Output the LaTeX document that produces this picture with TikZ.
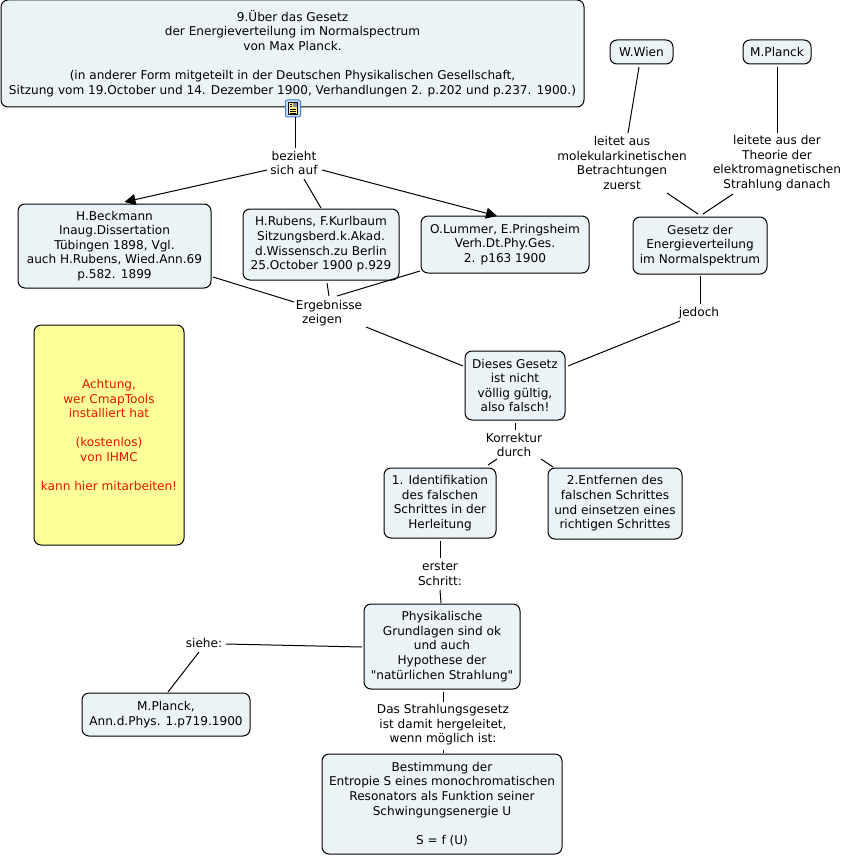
\documentclass[tikz,border=0pt]{standalone}
\usepackage{fontspec}
\setmainfont{DejaVu Sans}[Ligatures=TeXOff]
\usetikzlibrary{arrows.meta}
\definecolor{boxfill}{HTML}{ECF3F6}
\definecolor{noteyellow}{HTML}{FFFF99}
\definecolor{notered}{HTML}{E61400}
\definecolor{iconblue}{HTML}{3F7FD0}
\definecolor{iconface}{HTML}{CFE3F7}
\definecolor{iconpaper}{HTML}{FFEE88}
\definecolor{iconpic}{HTML}{7F8FB8}
\tikzset{
  concept/.style={draw=black,line width=1pt,fill=boxfill,rounded corners=7pt,inner sep=0pt,align=center,
    font=\fontsize{12.1}{14.6}\selectfont},
  note/.style={concept,fill=noteyellow,text=notered},
  linklabel/.style={inner sep=0pt,align=center,font=\fontsize{12.1}{14.6}\selectfont},
  conn/.style={line width=1pt,black},
  arrowconn/.style={conn,-{Triangle[length=11pt,width=11pt]}}
}
\newcommand{\pt}[3]{([shift={(#2,#3)}]#1.center)}
\begin{document}
\begin{tikzpicture}[x=1pt,y=-1pt]
\useasboundingbox (0,0) rectangle (843,856);
\fill[white] (0,0) rectangle (843,856);

\node[concept,minimum width=583pt,minimum height=107pt] (top) at (292.5,53.5) {9.Über das Gesetz\\der Energieverteilung im Normalspectrum\\von Max Planck.\\[14.6pt](in anderer Form mitgeteilt in der Deutschen Physikalischen Gesellschaft,\\Sitzung vom 19.October und 14. Dezember 1900, Verhandlungen 2. p.202 und p.237. 1900.)};
\node[concept,minimum width=63pt,minimum height=24pt] (wien) at (641.5,52) {W.Wien};
\node[concept,minimum width=68pt,minimum height=24pt] (planck) at (777,52) {M.Planck};
\node[concept,minimum width=193pt,minimum height=84pt] (beck) at (114.5,246) {H.Beckmann\\Inaug.Dissertation\\Tübingen 1898, Vgl.\\auch H.Rubens, Wied.Ann.69\\p.582. 1899};
\node[concept,minimum width=156pt,minimum height=71pt] (rub) at (321,244.5) {H.Rubens, F.Kurlbaum\\Sitzungsberd.k.Akad.\\d.Wissensch.zu Berlin\\25.October 1900 p.929};
\node[concept,minimum width=168pt,minimum height=57pt] (lum) at (505,244.5) {O.Lummer, E.Pringsheim\\Verh.Dt.Phy.Ges.\\2. p163 1900};
\node[concept,minimum width=134pt,minimum height=57pt] (ges) at (700,245.5) {Gesetz der\\Energieverteilung\\im Normalspektrum};
\node[note,minimum width=150pt,minimum height=220pt] (warn) at (109,435) {Achtung,\\wer CmapTools\\installiert hat\\[14.6pt](kostenlos)\\von IHMC\\[14.6pt]kann hier mitarbeiten!};
\node[concept,minimum width=100pt,minimum height=69pt] (dies) at (515,385.5) {Dieses Gesetz\\ist nicht\\völlig gültig,\\also falsch!};
\node[concept,minimum width=112pt,minimum height=70pt] (ident) at (440,503) {1. Identifikation\\des falschen\\Schrittes in der\\Herleitung};
\node[concept,minimum width=134pt,minimum height=71pt] (entf) at (615,503.5) {2.Entfernen des\\falschen Schrittes\\und einsetzen eines\\richtigen Schrittes};
\node[concept,minimum width=156pt,minimum height=85pt] (phys) at (442,646.5) {Physikalische\\Grundlagen sind ok\\und auch\\Hypothese der\\"natürlichen Strahlung"};
\node[concept,minimum width=168pt,minimum height=43pt] (annp) at (166,714.5) {M.Planck,\\Ann.d.Phys. 1.p719.1900};
\node[concept,minimum width=240pt,minimum height=100pt] (best) at (442,804) {Bestimmung der\\Entropie S eines monochromatischen\\Resonators als Funktion seiner\\Schwingungsenergie U\\[14.6pt]S = f (U)};

\node[linklabel] (bez) at (294,163) {bezieht\\sich auf};
\node[linklabel] (erg) at (329,313) {Ergebnisse\\zeigen\hspace*{14pt}};
\node[linklabel] (lw) at (622,163) {leitet aus\\molekularkinetischen\\Betrachtungen\\zuerst};
\node[linklabel] (lp) at (777,163) {leitete aus der\\Theorie der\\elektromagnetischen\\Strahlung danach};
\node[linklabel] (jed) at (699,313) {jedoch};
\node[linklabel] (korr) at (514,445) {Korrektur\\durch};
\node[linklabel] (ers) at (440,574) {erster\\Schritt:};
\node[linklabel] (sie) at (204,643) {siehe:};
\node[linklabel] (das) at (443,725) {Das Strahlungsgesetz\\ist damit hergeleitet,\\wenn möglich ist:};

% attachment icon on the top concept
\node[draw=iconblue,line width=1pt,fill=iconface,rounded corners=2pt,minimum width=15pt,minimum height=17pt,inner sep=0pt] (icon) at (293,108.5) {};
\fill[iconpaper,draw=black,line width=0.5pt] (288.5,102.5) rectangle (297.5,114.5);
\draw[black,line width=0.5pt] (290,109) -- (296,109) (290,111) -- (296,111) (290,113) -- (296,113) (290,104) -- (292,104) (290,106) -- (292,106);
\fill[iconpic] (293,103) rectangle (297,107.5);

\draw[conn] ([xshift=2pt]icon.south) -- \pt{bez}{1}{-15};
\draw[arrowconn] \pt{bez}{-27}{7} -- \pt{beck}{10}{-44};
\draw[arrowconn] \pt{bez}{28}{7} -- \pt{lum}{-8}{-28.5};
\draw[conn] \pt{bez}{10}{16} -- \pt{rub}{0}{-36.5};
\draw[conn] \pt{beck}{98.5}{31} -- \pt{erg}{-35}{-11};
\draw[conn] \pt{rub}{6}{38.5} -- \pt{erg}{0}{-17};
\draw[conn] \pt{lum}{-85}{26.5} -- \pt{erg}{8}{-17};
\draw[conn] \pt{erg}{37}{14} -- \pt{dies}{-52}{-19.5};
\draw[conn] \pt{wien}{-2.5}{15} -- \pt{lw}{6}{-30};
\draw[conn] \pt{planck}{0}{15} -- \pt{lp}{0}{-30};
\draw[conn] \pt{lw}{45}{30} -- \pt{ges}{-2}{-31.5};
\draw[conn] \pt{lp}{-44}{31} -- \pt{ges}{3}{-31.5};
\draw[conn] \pt{ges}{0}{30.5} -- \pt{jed}{1}{-9};
\draw[conn] \pt{jed}{-19}{8} -- \pt{dies}{53}{-19.5};
\draw[conn] \pt{dies}{0}{37.5} -- \pt{korr}{1}{-15};
\draw[conn] \pt{korr}{-17}{14} -- \pt{ident}{48}{-38};
\draw[conn] \pt{korr}{27}{14} -- \pt{entf}{-62}{-36.5};
\draw[conn] \pt{ident}{0}{38} -- \pt{ers}{0}{-16};
\draw[conn] \pt{ers}{0}{16} -- \pt{phys}{-1}{-43.5};
\draw[conn] \pt{phys}{-80}{0.5} -- \pt{sie}{22}{1};
\draw[conn] \pt{sie}{-5}{9} -- \pt{annp}{2}{-22.5};
\draw[conn] \pt{phys}{1}{45.5} -- \pt{das}{0}{-23};
\draw[conn] \pt{das}{0}{25} -- \pt{best}{1}{-51};
\end{tikzpicture}
\end{document}
